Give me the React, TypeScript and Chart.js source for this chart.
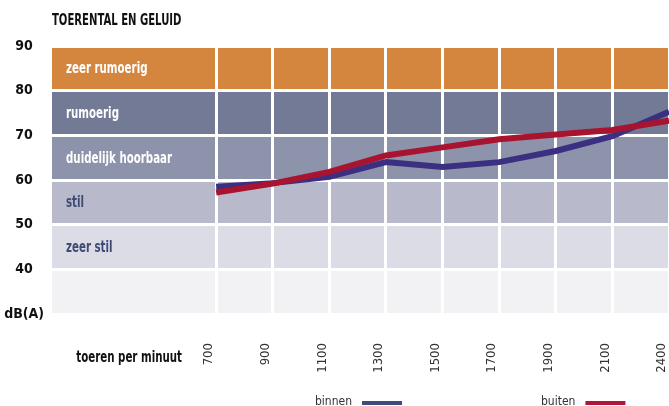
import React, { useEffect, useRef } from "react";
import { Chart, registerables } from "chart.js";

Chart.register(...registerables);

const xLabels = ["700", "900", "1100", "1300", "1500", "1700", "1900", "2100", "2400"];
const binnen = [58.5, 59.3, 60.7, 64.0, 62.9, 64.0, 66.5, 69.8, 75.3];
const buiten = [57.2, 59.2, 61.8, 65.5, 67.3, 69.1, 70.2, 71.2, 73.3];

const bandFrom = [80, 70, 60, 50, 40, 30];
const bandTo = [90, 80, 70, 60, 50, 40];
const bandColors = ["#d4863f", "#727a96", "#8d93ab", "#b8bacc", "#dcdce6", "#f2f2f5"];
const bandLabels = ["zeer rumoerig", "rumoerig", "duidelijk hoorbaar", "stil", "zeer stil", ""];
const bandLabelColors = ["#ffffff", "#ffffff", "#ffffff", "#3f4a75", "#3f4a75", "#3f4a75"];

const seriesNames = ["binnen", "buiten"];
const seriesColors = ["#3a2f80", "#a8132f"];
const legendSwatchColors = ["#3e4c78", "#b0163a"];

const COND = "'DejaVu Sans Condensed', 'DejaVu Sans', sans-serif";

const X_MIN = -2.9;
const X_MAX = 8;
const LABEL_SHIFT = 0.125;

function narrowText(ctx: any, text: string, x: number, y: number, font: string, sx: number, align: string) {
  ctx.save();
  ctx.font = font;
  ctx.textBaseline = "middle";
  ctx.textAlign = "left";
  const w = ctx.measureText(text).width * sx;
  const left = align === "right" ? x - w : x;
  ctx.translate(left, y);
  ctx.scale(sx, 1);
  ctx.fillText(text, 0, 0);
  ctx.restore();
}

const decorPlugin = {
  id: "decor",
  beforeDraw(chart: any) {
    const { ctx, chartArea, scales } = chart;
    const y = scales.y;
    ctx.save();
    for (let i = 0; i < bandFrom.length; i++) {
      const top = y.getPixelForValue(bandTo[i]);
      const bot = y.getPixelForValue(bandFrom[i]);
      ctx.fillStyle = bandColors[i];
      ctx.fillRect(chartArea.left, top, chartArea.right - chartArea.left, bot - top);
    }
    ctx.restore();
  },
  beforeDatasetsDraw(chart: any) {
    const { ctx, chartArea, scales } = chart;
    const y = scales.y;
    for (let i = 0; i < bandLabels.length; i++) {
      if (!bandLabels[i]) continue;
      const mid = (y.getPixelForValue(bandTo[i]) + y.getPixelForValue(bandFrom[i])) / 2;
      ctx.fillStyle = bandLabelColors[i];
      narrowText(ctx, bandLabels[i], chartArea.left + 14, mid + 1, `bold 15px ${COND}`, 0.76, "left");
    }
  },
  afterDraw(chart: any) {
    const { ctx } = chart;
    ctx.fillStyle = "#111";
    narrowText(ctx, "TOERENTAL EN GELUID", 52, 21, `bold 16px ${COND}`, 0.7, "left");
    narrowText(ctx, "toeren per minuut", 182, 358, `bold 15px ${COND}`, 0.76, "right");
    // legend
    const legendX = [315, 541];
    ctx.save();
    ctx.font = `12px ${COND}`;
    ctx.textBaseline = "middle";
    ctx.textAlign = "left";
    for (let i = 0; i < seriesNames.length; i++) {
      ctx.fillStyle = "#333";
      ctx.fillText(seriesNames[i], legendX[i], 402);
      const w = ctx.measureText(seriesNames[i]).width;
      ctx.fillStyle = legendSwatchColors[i];
      ctx.fillRect(legendX[i] + w + 10, 401, 40, 4);
    }
    ctx.restore();
  },
};

export default function App() {
  const ref = useRef<HTMLCanvasElement | null>(null);
  useEffect(() => {
    if (!ref.current) return;
    const fixTicks = (s: any) => {
      s.ticks = xLabels.map((_, i) => ({ value: i }));
    };
    const chart = new Chart(ref.current, {
      type: "line",
      data: {
        datasets: [
          {
            label: seriesNames[1],
            data: buiten.map((v, i) => ({ x: i, y: v })),
            borderColor: seriesColors[1],
            backgroundColor: seriesColors[1],
            borderWidth: 6,
            pointRadius: 0,
            tension: 0,
            order: 1,
          },
          {
            label: seriesNames[0],
            data: binnen.map((v, i) => ({ x: i, y: v })),
            borderColor: seriesColors[0],
            backgroundColor: seriesColors[0],
            borderWidth: 6,
            pointRadius: 0,
            tension: 0,
            order: 2,
          },
        ],
      },
      options: {
        animation: false,
        responsive: false,
        devicePixelRatio: 1,
        layout: { padding: { top: 46, left: 0, right: 0, bottom: 0 } },
        plugins: { legend: { display: false }, tooltip: { enabled: false }, title: { display: false } },
        scales: {
          x: {
            type: "linear",
            position: "bottom",
            min: X_MIN,
            max: X_MAX,
            afterBuildTicks: fixTicks,
            afterFit: (s: any) => {
              s.height = 0;
              s.paddingLeft = 0;
              s.paddingRight = 0;
            },
            grid: { color: "#ffffff", lineWidth: 3, drawTicks: false },
            border: { display: false },
            ticks: { display: false },
          },
          x2: {
            type: "linear",
            position: "bottom",
            min: X_MIN + LABEL_SHIFT,
            max: X_MAX + LABEL_SHIFT,
            afterBuildTicks: fixTicks,
            afterFit: (s: any) => {
              s.height = 92;
              s.paddingLeft = 0;
              s.paddingRight = 0;
            },
            grid: { display: false, drawTicks: false },
            border: { display: false },
            ticks: {
              autoSkip: false,
              minRotation: 90,
              maxRotation: 90,
              padding: 29,
              color: "#333",
              font: { family: COND, size: 13 },
              callback: (v: any) => xLabels[v] ?? "",
            },
          },
          y: {
            min: 30,
            max: 90,
            afterFit: (s: any) => {
              s.width = 52;
              s.paddingTop = 0;
              s.paddingBottom = 0;
            },
            grid: { color: "#ffffff", lineWidth: 3, drawTicks: false },
            border: { display: false },
            ticks: {
              stepSize: 10,
              crossAlign: "center",
              padding: 8,
              color: "#111",
              font: { family: COND, size: 14, weight: "bold" },
              callback: (v: any) => (v === 30 ? "dB(A)" : String(v)),
            },
          },
        },
      },
      plugins: [decorPlugin],
    } as any);
    return () => chart.destroy();
  }, []);
  return (
    <div style={{ position: "absolute", left: 0, top: 0, width: 669, height: 406, background: "#fff" }}>
      <canvas ref={ref} width={669} height={406} style={{ display: "block" }} />
    </div>
  );
}
